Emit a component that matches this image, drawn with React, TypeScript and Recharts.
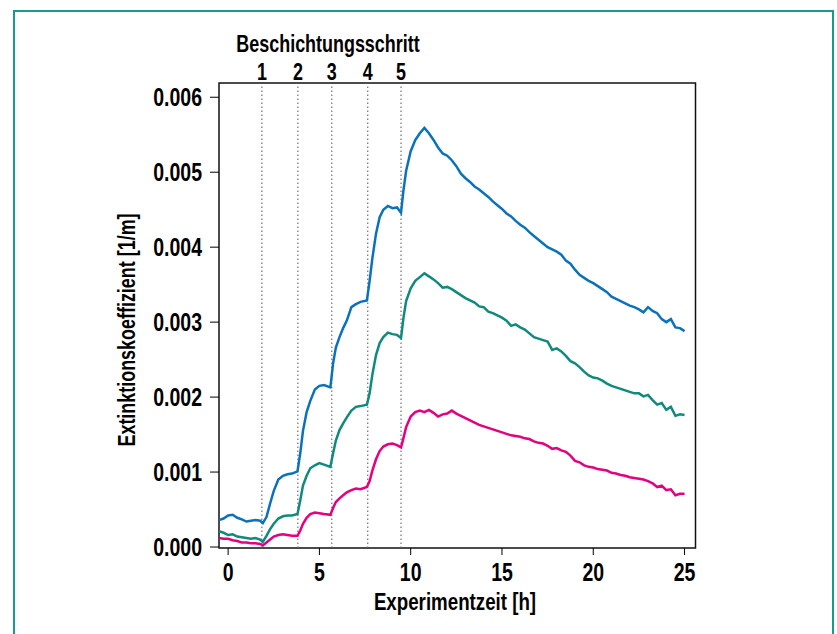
import React from 'react';
import {
  LineChart,
  Line,
  XAxis,
  YAxis,
  ReferenceLine,
  ReferenceArea,
} from 'recharts';

// time in hours, values in 1e-3 1/m
const TIMES = [
  -0.5, -0.25, 0, 0.25, 0.5, 0.75, 1, 1.25, 1.5, 1.75,
  1.9, 2.1, 2.3, 2.5, 2.75, 3, 3.25, 3.5,
  3.8, 3.95, 4.1, 4.3, 4.5, 4.75, 5, 5.25,
  5.6, 5.75, 5.9, 6.1, 6.3, 6.5, 6.75, 7, 7.25,
  7.6, 7.75, 7.9, 8.1, 8.3, 8.5, 8.75, 9, 9.25,
  9.47, 9.6, 9.75,
  10, 10.25, 10.5, 10.75, 11, 11.25, 11.5, 11.75,
  12, 12.25, 12.5, 12.75, 13, 13.25, 13.5, 13.75,
  14, 14.25, 14.5, 14.75, 15, 15.25, 15.5, 15.75,
  16, 16.25, 16.5, 16.75, 17, 17.25, 17.5, 17.75,
  18, 18.25, 18.5, 18.75, 19, 19.25, 19.5, 19.75,
  20, 20.25, 20.5, 20.75, 21, 21.25, 21.5, 21.75,
  22, 22.25, 22.5, 22.75, 23, 23.25, 23.5, 23.75,
  24, 24.25, 24.5, 24.75, 25,
];

const BLUE = [
  0.36, 0.38, 0.42, 0.43, 0.39, 0.37, 0.34, 0.35, 0.36, 0.35,
  0.32, 0.4, 0.58, 0.75, 0.9, 0.95, 0.97, 0.98,
  1.01, 1.25, 1.55, 1.8, 1.95, 2.1, 2.15, 2.16,
  2.13, 2.45, 2.66, 2.8, 2.92, 3.02, 3.2, 3.24, 3.27,
  3.29, 3.55, 3.85, 4.18, 4.4, 4.5, 4.55, 4.52, 4.53,
  4.46, 4.75, 5.02,
  5.28, 5.43, 5.52, 5.59, 5.52, 5.43, 5.33, 5.25,
  5.22, 5.16, 5.08, 4.98, 4.92, 4.87, 4.81, 4.77,
  4.72, 4.67, 4.61, 4.56, 4.51, 4.45, 4.41, 4.35,
  4.3, 4.26, 4.2, 4.15, 4.1, 4.05, 4.0, 3.97,
  3.94, 3.9, 3.82, 3.78, 3.7, 3.63, 3.59, 3.55,
  3.52, 3.48, 3.44, 3.4, 3.34, 3.31, 3.28, 3.25,
  3.22, 3.2, 3.17, 3.13, 3.2, 3.15, 3.12, 3.04,
  3.0, 3.04, 2.93, 2.92, 2.88,
];

const TEAL = [
  0.21, 0.19, 0.16, 0.17, 0.14, 0.13, 0.12, 0.11, 0.12, 0.1,
  0.07, 0.15, 0.24, 0.31, 0.38, 0.41, 0.42, 0.42,
  0.44, 0.62, 0.82, 0.95, 1.05, 1.09, 1.12, 1.1,
  1.07, 1.25, 1.42, 1.56, 1.65, 1.73, 1.82, 1.87, 1.88,
  1.9, 2.05, 2.3, 2.56, 2.72, 2.8, 2.86, 2.84, 2.83,
  2.79, 3.05, 3.28,
  3.45, 3.55, 3.6, 3.65, 3.61, 3.57, 3.52, 3.46,
  3.47, 3.44, 3.4, 3.36, 3.32, 3.29, 3.26, 3.21,
  3.2, 3.14, 3.12, 3.09, 3.06, 3.02, 2.95, 2.97,
  2.93, 2.9, 2.85, 2.8, 2.78, 2.76, 2.74, 2.63,
  2.65, 2.61, 2.55, 2.48, 2.45, 2.4, 2.34, 2.29,
  2.26, 2.25, 2.22, 2.18, 2.15, 2.13, 2.11, 2.09,
  2.07, 2.05, 2.05, 2.01, 2.03, 1.96, 1.9, 1.92,
  1.83, 1.87, 1.75, 1.77, 1.76,
];

const MAGENTA = [
  0.12, 0.11, 0.11, 0.09, 0.08, 0.06, 0.06, 0.05, 0.05, 0.04,
  0.02, 0.06, 0.1, 0.14, 0.16, 0.17, 0.16, 0.15,
  0.15, 0.22, 0.31, 0.39, 0.44, 0.46, 0.45, 0.44,
  0.43, 0.52, 0.6, 0.65, 0.69, 0.73, 0.76, 0.78, 0.77,
  0.8, 0.88, 1.02, 1.17, 1.28, 1.34, 1.37, 1.38, 1.36,
  1.33, 1.45, 1.6,
  1.74, 1.8, 1.82, 1.8, 1.83, 1.79, 1.74, 1.77,
  1.78, 1.82, 1.78, 1.75, 1.72, 1.69, 1.66, 1.63,
  1.61, 1.59, 1.57, 1.55, 1.53, 1.51, 1.49, 1.48,
  1.47, 1.45, 1.44, 1.41, 1.39, 1.38, 1.35, 1.31,
  1.32, 1.29, 1.27, 1.22, 1.15, 1.13, 1.09, 1.07,
  1.06, 1.04, 1.03, 1.02, 0.99, 0.98, 0.96, 0.95,
  0.93, 0.92, 0.91, 0.9, 0.88, 0.85, 0.8, 0.82,
  0.76, 0.77, 0.69, 0.71, 0.71,
];

const STEP_TIMES = [1.85, 3.82, 5.68, 7.65, 9.47];
const STEP_LABELS = ['1', '2', '3', '4', '5'];
const X_TICKS = [0, 5, 10, 15, 20, 25];
const Y_TICKS = [0, 1, 2, 3, 4, 5, 6];

const X_MIN = -0.5;
const X_MAX = 25.6;
const Y_MIN = -0.013;
const Y_MAX = 6.19;

const FONT = '"Liberation Sans", Arial, sans-serif';
const SQUEEZE = 0.78;

const data = TIMES.map((t, i) => ({
  t,
  blue: BLUE[i],
  teal: TEAL[i],
  magenta: MAGENTA[i],
}));

// bold text squeezed horizontally to mimic a condensed face
function CondText({ x, y, size, anchor = 'middle', rotate = 0, children }: any) {
  const rot = rotate ? ` rotate(${rotate})` : '';
  return (
    <text
      transform={`translate(${x},${y})${rot} scale(${SQUEEZE},1)`}
      x={0}
      y={0}
      textAnchor={anchor}
      fill="#000"
      style={{ fontFamily: FONT, fontSize: size, fontWeight: 700 }}
    >
      {children}
    </text>
  );
}

const XTick = ({ x, y, payload }: any) => (
  <CondText x={x} y={y + 18} size={25}>
    {payload.value}
  </CondText>
);

const YTick = ({ x, y, payload }: any) => (
  <CondText x={x} y={y + 9} size={25} anchor="end">
    {(payload.value / 1000).toFixed(3)}
  </CondText>
);

export default function App() {
  return (
    <div style={{ position: 'absolute', left: 0, top: 0, width: 837, height: 634, background: '#fff', overflow: 'hidden' }}>
      <div
        style={{
          position: 'absolute',
          left: 13,
          top: 10,
          width: 821,
          height: 660,
          border: '2px solid #169b8c',
          boxSizing: 'border-box',
        }}
      />
      <LineChart
        width={837}
        height={634}
        data={data}
        margin={{ top: 83, right: 141.5, bottom: 26, left: 0 }}
        style={{ position: 'absolute', left: 0, top: 0 }}
      >
        <XAxis
          dataKey="t"
          type="number"
          domain={[X_MIN, X_MAX]}
          ticks={X_TICKS}
          allowDataOverflow
          axisLine={false}
          tickSize={7}
          tickMargin={8}
          tick={XTick}
          stroke="#000"
          height={60}
          label={{
            content: () => (
              <CondText x={455} y={610} size={24}>
                Experimentzeit [h]
              </CondText>
            ),
          }}
        />
        <YAxis
          type="number"
          domain={[Y_MIN, Y_MAX]}
          ticks={Y_TICKS}
          allowDataOverflow
          axisLine={false}
          tickSize={9}
          tickMargin={8}
          tick={YTick}
          stroke="#000"
          width={219}
          label={{
            content: () => (
              <CondText x={135} y={330} size={23} rotate={-90}>
                Extinktionskoeffizient [1/m]
              </CondText>
            ),
          }}
        />
        {STEP_TIMES.map((s, i) => (
          <ReferenceLine
            key={`step-${i}`}
            x={s}
            stroke="#555"
            strokeWidth={1}
            strokeDasharray="1.5 2.5"
            label={{
              content: ({ viewBox }: any) => (
                <CondText x={viewBox.x} y={viewBox.y - 3} size={23}>
                  {STEP_LABELS[i]}
                </CondText>
              ),
            }}
          />
        ))}
        <ReferenceArea
          x1={X_MIN}
          x2={X_MAX}
          y1={Y_MIN}
          y2={Y_MAX}
          fill="none"
          stroke="#111"
          strokeWidth={1.5}
          fillOpacity={0}
        />
        <Line type="linear" dataKey="blue" stroke="#0a72bb" strokeWidth={2.5} dot={false} isAnimationActive={false} />
        <Line type="linear" dataKey="teal" stroke="#0f8a7c" strokeWidth={2.5} dot={false} isAnimationActive={false} />
        <Line type="linear" dataKey="magenta" stroke="#e5007f" strokeWidth={2.5} dot={false} isAnimationActive={false} />
      </LineChart>
      <svg width={837} height={634} style={{ position: 'absolute', left: 0, top: 0, pointerEvents: 'none' }}>
        <CondText x={328} y={52} size={23}>
          Beschichtungsschritt
        </CondText>
      </svg>
    </div>
  );
}
